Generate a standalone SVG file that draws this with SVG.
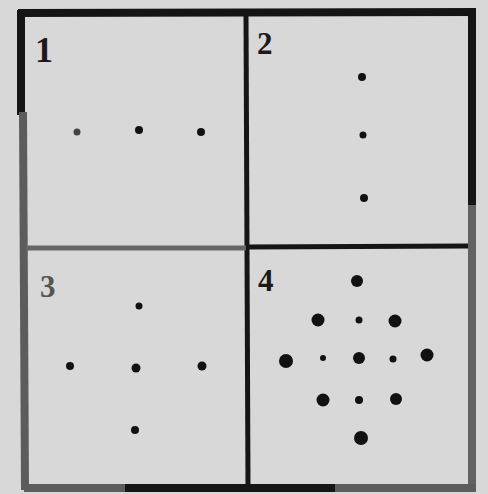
<svg xmlns="http://www.w3.org/2000/svg" width="488" height="494" viewBox="0 0 488 494">
<style>
.edge{stroke-width:8;fill:none}
.div{stroke-width:5}
.dot{fill:#111}
.lbl{font-family:"Liberation Serif",serif;font-weight:bold;font-size:31px;fill:#1a1a1a}
</style>
<rect width="488" height="494" fill="#d8d8d8"/>
<g id="frame">
<line class="edge" x1="18" y1="13" x2="476" y2="12" stroke="#151515" stroke-width="9"/>
<line class="edge" x1="21" y1="10" x2="21" y2="115" stroke="#151515"/>
<line class="edge" x1="23" y1="112" x2="25" y2="490" stroke="#5c5c5c"/>
<line class="edge" x1="472" y1="8" x2="472" y2="210" stroke="#151515"/>
<line class="edge" x1="472" y1="205" x2="472" y2="490" stroke="#626262"/>
<line class="edge" x1="24" y1="488" x2="130" y2="488" stroke="#5c5c5c"/>
<line class="edge" x1="125" y1="488" x2="340" y2="488" stroke="#151515"/>
<line class="edge" x1="335" y1="488" x2="476" y2="488" stroke="#5c5c5c"/>
<line class="div" x1="246" y1="14" x2="248" y2="488" stroke="#151515"/>
<line class="div" x1="26" y1="248" x2="246" y2="248" stroke="#666"/>
<line class="div" x1="246" y1="247" x2="468" y2="246" stroke="#151515"/>
</g>
<g id="panel1">
<text class="lbl" x="35" y="62" style="font-size:36px">1</text>
<circle cx="77" cy="132" r="3.5" fill="#444"/>
<circle class="dot" cx="139" cy="130" r="4"/>
<circle class="dot" cx="201" cy="132" r="4"/>
</g>
<g id="panel2">
<text class="lbl" x="257" y="54">2</text>
<circle class="dot" cx="362" cy="77" r="4"/>
<circle class="dot" cx="363" cy="135" r="3.5"/>
<circle class="dot" cx="364" cy="198" r="4"/>
</g>
<g id="panel3">
<text class="lbl" x="40" y="297" style="fill:#555">3</text>
<circle class="dot" cx="139" cy="306" r="3.5"/>
<circle class="dot" cx="70" cy="366" r="4"/>
<circle class="dot" cx="136" cy="368" r="4.5"/>
<circle class="dot" cx="202" cy="366" r="4.5"/>
<circle class="dot" cx="135" cy="430" r="4"/>
</g>
<g id="panel4">
<text class="lbl" x="258" y="291">4</text>
<circle class="dot" cx="357" cy="281" r="6"/>
<circle class="dot" cx="318" cy="320" r="6.5"/>
<circle class="dot" cx="359" cy="320" r="3.5"/>
<circle class="dot" cx="395" cy="321" r="6.5"/>
<circle class="dot" cx="286" cy="361" r="7"/>
<circle class="dot" cx="323" cy="358" r="3"/>
<circle class="dot" cx="359" cy="358" r="6"/>
<circle class="dot" cx="393" cy="359" r="3.5"/>
<circle class="dot" cx="427" cy="355" r="6.5"/>
<circle class="dot" cx="323" cy="400" r="6.5"/>
<circle class="dot" cx="359" cy="400" r="4"/>
<circle class="dot" cx="396" cy="399" r="6"/>
<circle class="dot" cx="361" cy="438" r="7"/>
</g>
</svg>
